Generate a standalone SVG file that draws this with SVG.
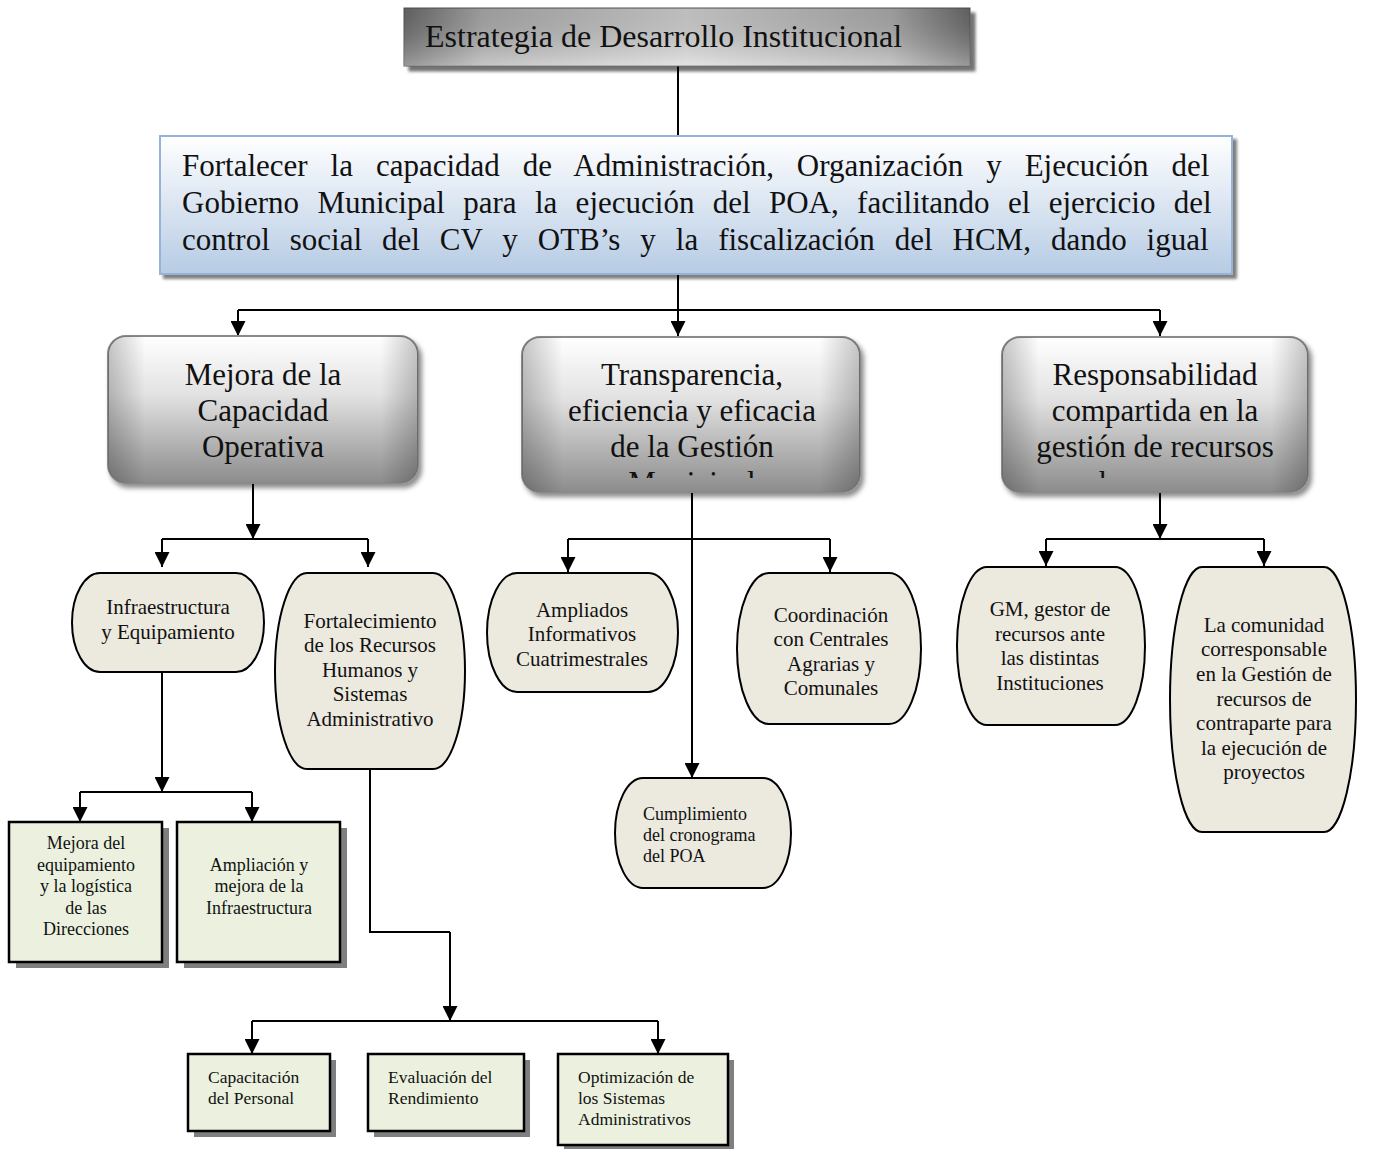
<svg xmlns="http://www.w3.org/2000/svg" width="1378" height="1149" viewBox="0 0 1378 1149">
  <defs>
    <style>
      text { font-family: "Liberation Serif", "Times New Roman", serif; fill: #111; }
      .title { font-size: 32px; }
      .goal { font-size: 31px; }
      .l2 { font-size: 31px; text-anchor: middle; }
      .l3 { font-size: 21px; text-anchor: middle; }
      .sm { font-size: 18px; }
      .smc { font-size: 18px; text-anchor: middle; }
      .xs { font-size: 17.5px; }
      .conn { fill: none; stroke: #000; stroke-width: 2; }
      .arr { fill: none; stroke: #000; stroke-width: 2; marker-end: url(#ah); }
      .term { fill: #ece9df; stroke: #000; stroke-width: 2; }
      .leaf { fill: #ebf1de; stroke: #000; stroke-width: 2.5; }
      .leafsh { fill: #7f7f7f; }
      .l2box { stroke: #8a8a8a; stroke-width: 2; }
    </style>
    <marker id="ah" markerUnits="userSpaceOnUse" markerWidth="15" markerHeight="15" viewBox="0 0 10 10" refX="10" refY="5" orient="auto">
      <path d="M0,0 L10,5 L0,10 Z" fill="#000"/>
    </marker>
    <linearGradient id="gTitle" x1="0" y1="0" x2="1" y2="0">
      <stop offset="0" stop-color="#6c6c6c"/>
      <stop offset="0.14" stop-color="#b0b0b0"/>
      <stop offset="0.5" stop-color="#d8d8d8"/>
      <stop offset="0.86" stop-color="#b0b0b0"/>
      <stop offset="1" stop-color="#6c6c6c"/>
    </linearGradient>
    <linearGradient id="gTitleV" x1="0" y1="0" x2="0" y2="1">
      <stop offset="0" stop-color="#000" stop-opacity="0.12"/>
      <stop offset="1" stop-color="#fff" stop-opacity="0.3"/>
    </linearGradient>
    <linearGradient id="gBlue" x1="0" y1="0" x2="0" y2="1">
      <stop offset="0" stop-color="#ffffff"/>
      <stop offset="1" stop-color="#b6cbe4"/>
    </linearGradient>
    <linearGradient id="gGray" x1="0" y1="0" x2="0" y2="1">
      <stop offset="0" stop-color="#ffffff"/>
      <stop offset="0.4" stop-color="#e2e2e2"/>
      <stop offset="1" stop-color="#8c8c8c"/>
    </linearGradient>
    <linearGradient id="gGrayH" x1="0" y1="0" x2="1" y2="0">
      <stop offset="0" stop-color="#000" stop-opacity="0.22"/>
      <stop offset="0.12" stop-color="#000" stop-opacity="0"/>
      <stop offset="0.88" stop-color="#000" stop-opacity="0"/>
      <stop offset="1" stop-color="#000" stop-opacity="0.22"/>
    </linearGradient>
    <filter id="shTitle" x="-5%" y="-20%" width="115%" height="150%">
      <feDropShadow dx="5" dy="5" stdDeviation="1.5" flood-color="#000" flood-opacity="0.55"/>
    </filter>
    <filter id="shBlue" x="-5%" y="-10%" width="115%" height="130%">
      <feDropShadow dx="4" dy="4" stdDeviation="1.5" flood-color="#000" flood-opacity="0.5"/>
    </filter>
    <filter id="shSoft" x="-10%" y="-10%" width="125%" height="130%">
      <feDropShadow dx="3" dy="4" stdDeviation="2.5" flood-color="#000" flood-opacity="0.45"/>
    </filter>
    <clipPath id="clipB"><rect x="522" y="337" width="338" height="141"/></clipPath>
    <clipPath id="clipC"><rect x="1002" y="337" width="306" height="141"/></clipPath>
  </defs>

  <rect width="1378" height="1149" fill="#fff"/>

  <!-- connectors -->
  <g id="connectors">
    <path class="arr" d="M678 66 V336"/>
    <path class="conn" d="M238 310 H1160"/>
    <path class="arr" d="M238 310 V336"/>
    <path class="arr" d="M1160 310 V336"/>

    <path class="arr" d="M253 483 V539"/>
    <path class="conn" d="M162 539 H368"/>
    <path class="arr" d="M162 539 V567"/>
    <path class="arr" d="M368 539 V567"/>

    <path class="arr" d="M162 672 V792"/>
    <path class="conn" d="M80 792 H252"/>
    <path class="arr" d="M80 792 V822"/>
    <path class="arr" d="M252 792 V822"/>

    <path class="conn" d="M370 769 V932 H450"/>
    <path class="arr" d="M450 932 V1021"/>
    <path class="conn" d="M252 1021 H658"/>
    <path class="arr" d="M252 1021 V1054"/>
    <path class="arr" d="M658 1021 V1054"/>

    <path class="arr" d="M692 493 V778"/>
    <path class="conn" d="M568 539 H830"/>
    <path class="arr" d="M568 539 V572"/>
    <path class="arr" d="M830 539 V572"/>

    <path class="arr" d="M1160 493 V539"/>
    <path class="conn" d="M1046 539 H1264"/>
    <path class="arr" d="M1046 539 V566"/>
    <path class="arr" d="M1264 539 V566"/>
  </g>

  <!-- title -->
  <g id="n-estrategia">
    <g filter="url(#shTitle)">
      <rect x="404" y="8" width="566" height="58" fill="url(#gTitle)" stroke="#555" stroke-width="1"/>
    </g>
    <rect x="404" y="8" width="566" height="58" fill="url(#gTitleV)"/>
    <text class="title" x="425" y="47">Estrategia de Desarrollo Institucional</text>
  </g>

  <!-- objective, justified lines -->
  <g id="n-objetivo">
    <rect x="160" y="136" width="1072" height="138" fill="url(#gBlue)" stroke="#95b3d7" stroke-width="2" filter="url(#shBlue)"/>
    <text class="goal" x="182" y="176" word-spacing="15.2">Fortalecer la capacidad de Administración, Organización y Ejecución del</text>
    <text class="goal" x="182" y="213" word-spacing="10.6">Gobierno Municipal para la ejecución del POA, facilitando el ejercicio del</text>
    <text class="goal" x="182" y="250" word-spacing="12.2">control social del CV y OTB’s y la fiscalización del HCM, dando igual</text>
  </g>

  <!-- level 2 -->
  <g id="n-capacidad">
    <rect class="l2box" x="108" y="336" width="310" height="147" rx="18" fill="url(#gGray)" filter="url(#shSoft)"/>
    <rect x="108" y="336" width="310" height="147" rx="18" fill="url(#gGrayH)"/>
    <text class="l2" x="263" y="385">Mejora de la</text>
    <text class="l2" x="263" y="421">Capacidad</text>
    <text class="l2" x="263" y="457">Operativa</text>
  </g>
  <g id="n-transparencia">
    <rect class="l2box" x="522" y="337" width="338" height="155" rx="18" fill="url(#gGray)" filter="url(#shSoft)"/>
    <rect x="522" y="337" width="338" height="155" rx="18" fill="url(#gGrayH)"/>
    <g clip-path="url(#clipB)">
      <text class="l2" x="692" y="385">Transparencia,</text>
      <text class="l2" x="692" y="421">eficiencia y eficacia</text>
      <text class="l2" x="692" y="457">de la Gestión</text>
      <text class="l2" x="692" y="493">Municipal</text>
    </g>
  </g>
  <g id="n-responsabilidad">
    <rect class="l2box" x="1002" y="337" width="306" height="155" rx="18" fill="url(#gGray)" filter="url(#shSoft)"/>
    <rect x="1002" y="337" width="306" height="155" rx="18" fill="url(#gGrayH)"/>
    <g clip-path="url(#clipC)">
      <text class="l2" x="1155" y="385">Responsabilidad</text>
      <text class="l2" x="1155" y="421">compartida en la</text>
      <text class="l2" x="1155" y="457">gestión de recursos</text>
      <text class="l2" x="1155" y="493">humanos</text>
    </g>
  </g>

  <!-- level 3 -->
  <g id="n-infraestructura">
    <path class="term" d="M100 573 H236 A28 49.5 0 0 1 236 672 H100 A28 49.5 0 0 1 100 573 Z"/>
    <text class="l3" x="168" y="614">Infraestructura</text>
    <text class="l3" x="168" y="639">y Equipamiento</text>
  </g>
  <g id="n-fortalecimiento">
    <path class="term" d="M307 573 H433 A32 98 0 0 1 433 769 H307 A32 98 0 0 1 307 573 Z"/>
    <text class="l3" x="370" y="628">Fortalecimiento</text>
    <text class="l3" x="370" y="652">de los Recursos</text>
    <text class="l3" x="370" y="677">Humanos y</text>
    <text class="l3" x="370" y="701">Sistemas</text>
    <text class="l3" x="370" y="726">Administrativo</text>
  </g>
  <g id="n-ampliados">
    <path class="term" d="M517 573 H648 A30 59.5 0 0 1 648 692 H517 A30 59.5 0 0 1 517 573 Z"/>
    <text class="l3" x="582" y="617">Ampliados</text>
    <text class="l3" x="582" y="641">Informativos</text>
    <text class="l3" x="582" y="666">Cuatrimestrales</text>
  </g>
  <g id="n-coordinacion">
    <path class="term" d="M769 573 H889 A32 75.5 0 0 1 889 724 H769 A32 75.5 0 0 1 769 573 Z"/>
    <text class="l3" x="831" y="622">Coordinación</text>
    <text class="l3" x="831" y="646">con Centrales</text>
    <text class="l3" x="831" y="671">Agrarias y</text>
    <text class="l3" x="831" y="695">Comunales</text>
  </g>
  <g id="n-cumplimiento">
    <path class="term" d="M643 778 H763 A28 55 0 0 1 763 888 H643 A28 55 0 0 1 643 778 Z"/>
    <text class="sm" x="643" y="820">Cumplimiento</text>
    <text class="sm" x="643" y="841">del cronograma</text>
    <text class="sm" x="643" y="862">del POA</text>
  </g>
  <g id="n-gm">
    <path class="term" d="M987 567 H1115 A30 79 0 0 1 1115 725 H987 A30 79 0 0 1 987 567 Z"/>
    <text class="l3" x="1050" y="616">GM, gestor de</text>
    <text class="l3" x="1050" y="641">recursos ante</text>
    <text class="l3" x="1050" y="665">las distintas</text>
    <text class="l3" x="1050" y="690">Instituciones</text>
  </g>
  <g id="n-comunidad">
    <path class="term" d="M1202 567 H1324 A32 132.5 0 0 1 1324 832 H1202 A32 132.5 0 0 1 1202 567 Z"/>
    <text class="l3" x="1264" y="632">La comunidad</text>
    <text class="l3" x="1264" y="656">corresponsable</text>
    <text class="l3" x="1264" y="681">en la Gestión de</text>
    <text class="l3" x="1264" y="706">recursos de</text>
    <text class="l3" x="1264" y="730">contraparte para</text>
    <text class="l3" x="1264" y="755">la ejecución de</text>
    <text class="l3" x="1264" y="779">proyectos</text>
  </g>

  <!-- level 4 -->
  <g id="n-equipamiento">
    <rect class="leafsh" x="16" y="828" width="153" height="140"/>
    <rect class="leaf" x="9" y="822" width="153" height="140"/>
    <text class="smc" x="86" y="849">Mejora del</text>
    <text class="smc" x="86" y="871">equipamiento</text>
    <text class="smc" x="86" y="892">y la logística</text>
    <text class="smc" x="86" y="914">de las</text>
    <text class="smc" x="86" y="935">Direcciones</text>
  </g>
  <g id="n-ampliacion">
    <rect class="leafsh" x="184" y="828" width="163" height="140"/>
    <rect class="leaf" x="177" y="822" width="163" height="140"/>
    <text class="smc" x="259" y="871">Ampliación y</text>
    <text class="smc" x="259" y="892">mejora de la</text>
    <text class="smc" x="259" y="914">Infraestructura</text>
  </g>
  <g id="n-capacitacion">
    <rect class="leafsh" x="194" y="1060" width="142" height="77"/>
    <rect class="leaf" x="188" y="1054" width="142" height="77"/>
    <text class="xs" x="208" y="1083">Capacitación</text>
    <text class="xs" x="208" y="1104">del Personal</text>
  </g>
  <g id="n-evaluacion">
    <rect class="leafsh" x="374" y="1060" width="156" height="77"/>
    <rect class="leaf" x="368" y="1054" width="156" height="77"/>
    <text class="xs" x="388" y="1083">Evaluación del</text>
    <text class="xs" x="388" y="1104">Rendimiento</text>
  </g>
  <g id="n-optimizacion">
    <rect class="leafsh" x="564" y="1060" width="170" height="91"/>
    <rect class="leaf" x="558" y="1054" width="170" height="91"/>
    <text class="xs" x="578" y="1083">Optimización de</text>
    <text class="xs" x="578" y="1104">los Sistemas</text>
    <text class="xs" x="578" y="1125">Administrativos</text>
  </g>
</svg>
